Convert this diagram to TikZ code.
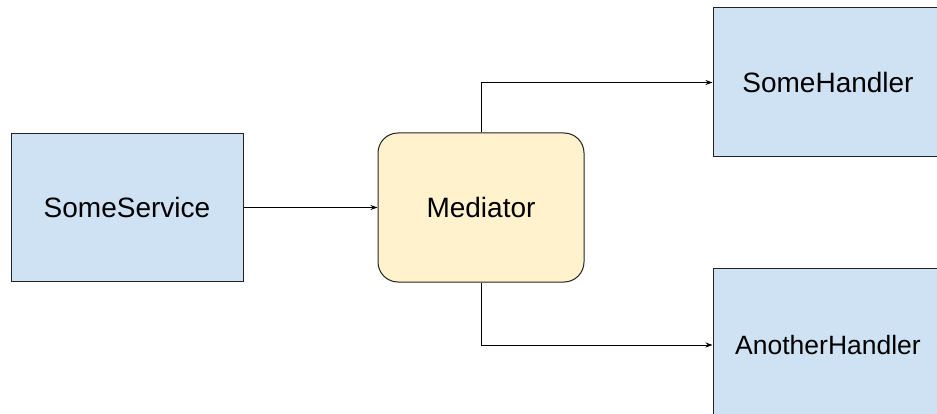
\documentclass[tikz,border=0pt]{standalone}
\usepackage{fontspec}
\setmainfont{Liberation Sans}
\usetikzlibrary{arrows.meta}
\definecolor{boxblue}{HTML}{CFE2F3}
\definecolor{boxyellow}{HTML}{FFF2CC}
\definecolor{edgegray}{HTML}{222222}
\tikzset{
  blockbox/.style={draw=edgegray, line width=1pt, fill=boxblue, minimum width=#1, inner sep=0pt, font=\fontsize{28}{32}\selectfont},
  medbox/.style={draw=edgegray, line width=1pt, fill=boxyellow, rounded corners=20pt, minimum width=206pt, minimum height=149pt, inner sep=0pt, font=\fontsize{28}{32}\selectfont},
  conn/.style={draw=black, line width=0.9pt, -{Stealth[length=7pt,width=5pt]}}
}
\begin{document}
\begin{tikzpicture}[x=1pt,y=-1pt]
\useasboundingbox (0,0) rectangle (937,414);
\clip (0,0) rectangle (937,414);
\fill[white] (0,0) rectangle (937,414);
\node[blockbox=232pt, minimum height=148pt] (svc) at (127,207.5) {SomeService};
\node[medbox] (med) at (481,207.5) {Mediator};
\node[blockbox=230pt, minimum height=149pt] (h1) at (828,82.5) {SomeHandler};
\node[blockbox=230pt, minimum height=154pt, font=\fontsize{26.5}{30}\selectfont] (h2) at (828,345) {AnotherHandler};
\draw[conn] (svc.east) -- (med.west);
\draw[conn] (med.north) |- (h1.west);
\draw[conn] (med.south) |- (h2.west);
\end{tikzpicture}
\end{document}
